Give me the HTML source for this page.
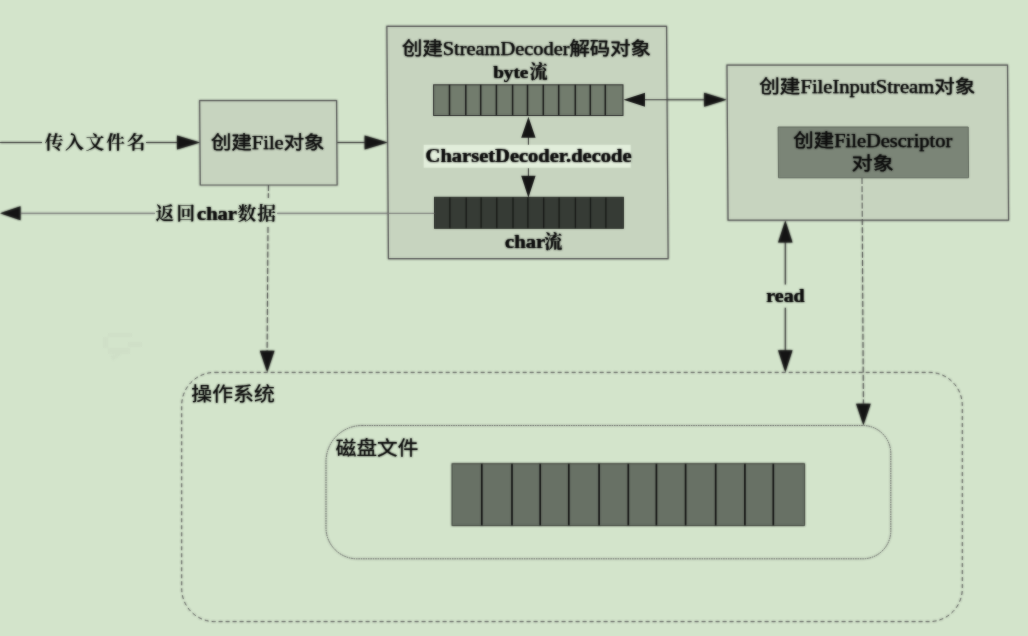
<!DOCTYPE html>
<html lang="zh-CN">
<head>
<meta charset="utf-8">
<title>StreamDecoder 读取文件流程</title>
<style>
html,body{margin:0;padding:0;background:#d3e4cb;}
body{width:1028px;height:636px;overflow:hidden;position:relative;}
svg{position:absolute;left:0;top:0;display:block;}
text{fill:#0a0a0a;font-size:20px;stroke:#0a0a0a;stroke-width:0.5;stroke-linejoin:round;}
.hei{font-family:"Liberation Serif","Noto Sans CJK SC",sans-serif;font-weight:400;font-size:18.2px;stroke-width:0.25;}
.heib{font-family:"Liberation Serif","Noto Sans CJK SC",sans-serif;font-weight:400;font-size:19.2px;stroke-width:0.1;}
.song{font-family:"Noto Serif CJK SC","Liberation Serif",serif;font-weight:600;stroke-width:0.05;}
.songb{font-family:"Noto Serif CJK SC","Liberation Serif",serif;font-weight:700;stroke-width:0.1;}
.bold{font-family:"Liberation Serif","Noto Serif CJK SC",serif;font-weight:700;stroke-width:0.2;}
.ln{stroke:#303030;stroke-width:1.05;fill:none;}
.thin{stroke:#707070;stroke-width:1;fill:none;}
.dash{stroke:#484848;stroke-width:0.95;fill:none;stroke-dasharray:6 2.2;}
.osb{stroke:#555;stroke-width:0.9;fill:none;stroke-dasharray:4 3;}
.dot{stroke:#5a5a5a;stroke-width:0.9;fill:none;stroke-dasharray:1.6 0.8;}
.box{fill:#c7d4bf;stroke:#505050;stroke-width:1.2;}
.inner{fill:#7b8577;stroke:#5a6257;stroke-width:1;}
.ah{fill:#141414;}
</style>
</head>
<body>
<svg width="1028" height="636" viewBox="0 0 1028 636">
<defs>
<filter id="fs" x="-2%" y="-2%" width="104%" height="104%" color-interpolation-filters="sRGB">
<feGaussianBlur in="SourceGraphic" stdDeviation="0.8" result="b"/>
<feComponentTransfer in="SourceGraphic" result="c"><feFuncA type="linear" slope="0.55"/></feComponentTransfer>
<feMerge><feMergeNode in="b"/><feMergeNode in="c"/></feMerge>
</filter>
<filter id="ft" x="-2%" y="-2%" width="104%" height="104%" color-interpolation-filters="sRGB">
<feGaussianBlur in="SourceGraphic" stdDeviation="0.8" result="b"/>
<feComponentTransfer in="SourceGraphic" result="c"><feFuncA type="linear" slope="0.7"/></feComponentTransfer>
<feMerge><feMergeNode in="b"/><feMergeNode in="c"/></feMerge>
</filter>
</defs>
<rect x="0" y="0" width="1028" height="636" fill="#d3e4cb"/>

<g class="shapes" filter="url(#fs)">
<polygon class="box" points="199.71,100.7 336.51,100.7 337.09,185 200.29,185"/>
<polygon class="box" points="386.91,26.4 666.51,26.4 668.09,258.6 388.49,258.6"/>
<rect x="433.6" y="84.8" width="189.4" height="30.7" fill="#727c6d" stroke="#222" stroke-width="1"/>
<path d="M449.5 84.8V115.5M465.8 84.8V115.5M480.7 84.8V115.5M496.4 84.8V115.5M512.6 84.8V115.5M527.5 84.8V115.5M543.3 84.8V115.5M558.7 84.8V115.5M575.3 84.8V115.5M590.3 84.8V115.5M605.3 84.8V115.5" stroke="#151515" stroke-width="1.5" fill="none"/>
<rect x="423.7" y="144.8" width="207" height="22.9" fill="#e2eedb"/>
<rect x="434.5" y="197.3" width="188.9" height="31.0" fill="#363b35" stroke="#20231f" stroke-width="1"/>
<path d="M449.9 197.3V228.3M466.2 197.3V228.3M481.1 197.3V228.3M496.8 197.3V228.3M513.0 197.3V228.3M527.9 197.3V228.3M543.7 197.3V228.3M559.1 197.3V228.3M575.4 197.3V228.3M590.5 197.3V228.3M605.9 197.3V228.3" stroke="#161815" stroke-width="1.3" fill="none"/>
<path class="ln" d="M528.4 137V144.8M528.4 168.2V177"/>
<path class="ah" d="M528.4 116.8L521.2 137.8H535.6Z"/>
<path class="ah" d="M528.4 197.8L521.2 175.8H535.6Z"/>
<polygon class="box" points="727.02,65.2 1007.47,65.2 1008.53,220.2 728.08,220.2"/>
<polygon class="inner" points="778.13,127 968.23,127 968.57,177.8 778.47,177.8"/>
<path class="ln" d="M0 142.5H42M146 142.5H178"/>
<path class="ah" d="M200 142.5L177 135.5V149.5Z"/>
<path class="ln" d="M337.3 142.5H366"/>
<path class="ah" d="M387.6 142.5L364.6 135.5V149.5Z"/>
<path class="thin" d="M19 213.3H155M277 213.3H434.5"/>
<path class="ah" d="M0 213.3L20.5 206.3V220.3Z"/>
<path class="ln" d="M643 99.8H705"/>
<path class="ah" d="M623.5 99.8L645.0 92.8V106.8Z"/>
<path class="ah" d="M726.6 99.8L704.1 92.8V106.8Z"/>
<path class="ln" d="M785.3 240V284.5M785.3 307.7V351"/>
<path class="ah" d="M785.3 220.5L778.1 242.5H792.5Z"/>
<path class="ah" d="M785.3 372.3L778.1 350.3H792.5Z"/>
<path class="dash" d="M268.5 185L268.3 198M268 227L267.1 352"/>
<path class="ah" d="M267.2 372.3L259.9 350.8H274.5Z"/>
<path class="dash" d="M862 178L863.4 405"/>
<path class="ah" d="M863.4 425.2L856.1 403.7H870.7Z"/>
<path d="M108 333h24v4h-24zM103 337h5v11h-5zM128 342h14v5h-14zM108 348h22v6h-22zM110 356l9 -4l2 3l-8 6z" fill="#7f8f78" opacity="0.025"/>
<rect class="osb" x="181.7" y="372.4" width="780.6" height="249.2" rx="33" ry="33"/>
<path class="dot" d="M362 425.5H862.8A28 28 0 0 1 890.8 453.5V530.8A28 28 0 0 1 862.8 558.8H357A31 31 0 0 1 326 527.8V461.5A36 36 0 0 1 362 425.5Z"/>
<rect x="452.1" y="463.8" width="352.3" height="61.6" fill="#687165" stroke="#3a3f38" stroke-width="1"/>
<path d="M481.8 463.8V525.4M512.0 463.8V525.4M540.2 463.8V525.4M568.8 463.8V525.4M599.1 463.8V525.4M628.3 463.8V525.4M656.4 463.8V525.4M685.6 463.8V525.4M715.7 463.8V525.4M744.9 463.8V525.4M773.3 463.8V525.4" stroke="#111" stroke-width="1.7" fill="none"/>
</g>
<g class="labels" filter="url(#ft)">
<text class="hei" x="211" y="148.8" textLength="113.5" lengthAdjust="spacingAndGlyphs">创建File对象</text>
<text class="hei" x="402" y="55.3" textLength="249" lengthAdjust="spacingAndGlyphs">创建StreamDecoder解码对象</text>
<text><tspan class="bold" x="493.2" y="78" textLength="35.2" lengthAdjust="spacingAndGlyphs" style="font-size:17.5px;">byte</tspan><tspan class="songb" x="529.6" y="78" style="font-size:18px;">流</tspan></text>
<text class="bold" x="425.6" y="162" textLength="206" lengthAdjust="spacingAndGlyphs" style="font-size:18.7px;">CharsetDecoder.decode</text>
<text><tspan class="bold" x="505" y="247.8" textLength="40.2" lengthAdjust="spacingAndGlyphs" style="font-size:18px;">char</tspan><tspan class="songb" x="544.2" y="247.8" style="font-size:18px;">流</tspan></text>
<text class="hei" x="759.3" y="93.4" textLength="216" lengthAdjust="spacingAndGlyphs">创建FileInputStream对象</text>
<text><tspan class="hei" x="793.3" y="146.5" textLength="159" lengthAdjust="spacingAndGlyphs">创建FileDescriptor</tspan><tspan class="hei" x="851.8" y="170" textLength="42" lengthAdjust="spacingAndGlyphs">对象</tspan></text>
<text class="song" x="44.7" y="149.3" style="font-size:18.6px;letter-spacing:1.9px;">传入文件名</text>
<text><tspan class="song" x="155.6" y="219.8" style="font-size:18.6px;letter-spacing:2.2px;">返回</tspan><tspan class="bold" x="197" y="220.2" textLength="40" lengthAdjust="spacingAndGlyphs" style="font-size:18px;">char</tspan><tspan class="song" x="237.4" y="219.8" style="font-size:18.6px;letter-spacing:1.2px;">数据</tspan></text>
<text class="bold" x="766.3" y="302.2" textLength="38.4" lengthAdjust="spacingAndGlyphs" style="font-size:19.5px;">read</text>
<text class="heib" x="191.3" y="400.9" textLength="83.5" lengthAdjust="spacingAndGlyphs">操作系统</text>
<text class="heib" x="335.8" y="455" textLength="82.5" lengthAdjust="spacingAndGlyphs">磁盘文件</text>
</g>
</svg>
</body>
</html>
